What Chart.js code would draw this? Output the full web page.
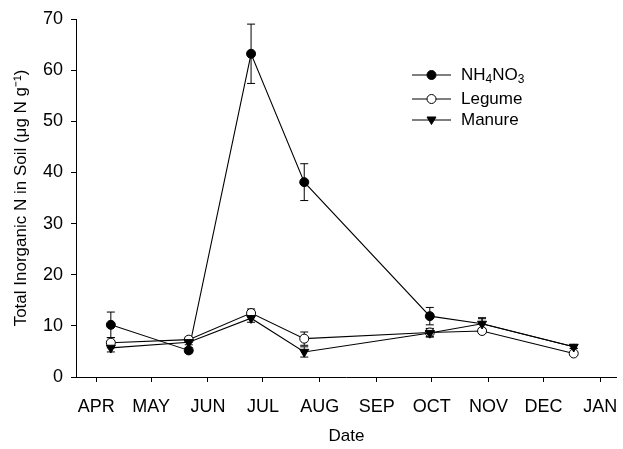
<!DOCTYPE html>
<html>
<head>
<meta charset="utf-8">
<script src="https://cdn.jsdelivr.net/npm/chart.js@4/dist/chart.umd.min.js"></script>
<style>
  html, body { margin: 0; padding: 0; background: #fff; }
  #wrap { width: 623px; height: 449px; }
</style>
</head>
<body>
<div id="wrap"><canvas id="myChart"></canvas></div>
<script>
// days after 1 April
const sampleDays = [8, 50.5, 84.5, 113.5, 182, 210.5, 260.5];

const nh4no3 = [10.2, 5.2, 63.2, 38.1, 11.9, 10.4, 5.9];
const nh4no3Err = [2.5, 0.5, 5.8, 3.6, 1.7, 1.0, 0.3];

const legume = [6.7, 7.3, 12.5, 7.5, 8.7, 9.0, 4.6];
const legumeErr = [1.0, 0.5, 0.8, 1.3, 0.8, 0.5, 0.4];

const manure = [5.7, 6.8, 11.5, 4.9, 8.6, 10.4, 5.9];
const manureErr = [0.8, 0.5, 0.8, 1.0, 0.8, 1.2, 0.3];

const monthLabels = ["APR", "MAY", "JUN", "JUL", "AUG", "SEP", "OCT", "NOV", "DEC", "JAN"];
const monthStarts = [0, 30, 61, 91, 122, 153, 183, 214, 244, 275];
const yTicks = [0, 10, 20, 30, 40, 50, 60, 70];

const FONT = "'Liberation Sans', Arial, sans-serif";

function pts(values) {
  return values.map((v, i) => ({x: sampleDays[i], y: v}));
}

const errorBars = {
  id: 'errorBars',
  beforeDatasetsDraw(chart) {
    const ctx = chart.ctx;
    const xs = chart.scales.x, ys = chart.scales.y;
    ctx.save();
    ctx.strokeStyle = '#000';
    ctx.lineWidth = 1;
    chart.data.datasets.forEach(ds => {
      ds.data.forEach((p, i) => {
        const e = ds.errors[i];
        const x = xs.getPixelForValue(p.x);
        const y1 = ys.getPixelForValue(p.y + e);
        const y2 = ys.getPixelForValue(p.y - e);
        ctx.beginPath();
        ctx.moveTo(x, y1); ctx.lineTo(x, y2);
        ctx.moveTo(x - 4, y1); ctx.lineTo(x + 4, y1);
        ctx.moveTo(x - 4, y2); ctx.lineTo(x + 4, y2);
        ctx.stroke();
      });
    });
    ctx.restore();
  }
};

// legend drawn inside the plot, with subscripts
const insideLegend = {
  id: 'insideLegend',
  afterDraw(chart) {
    const ctx = chart.ctx;
    const rows = [
      {ds: 0, y: 75, parts: [["NH", 0], ["4", 1], ["NO", 0], ["3", 1]]},
      {ds: 1, y: 99, parts: [["Legume", 0]]},
      {ds: 2, y: 120, parts: [["Manure", 0]]}
    ];
    ctx.save();
    rows.forEach(r => {
      const ds = chart.data.datasets[r.ds];
      ctx.strokeStyle = '#000';
      ctx.lineWidth = 1.1;
      ctx.beginPath();
      ctx.moveTo(412, r.y); ctx.lineTo(451, r.y);
      ctx.stroke();
      ctx.fillStyle = ds.pointBackgroundColor;
      ctx.lineWidth = 1;
      ctx.beginPath();
      if (ds.pointStyle === 'circle') {
        ctx.arc(431.5, r.y, 4.5, 0, Math.PI * 2);
      } else {
        ctx.moveTo(431.5 - 4.5, r.y - 3);
        ctx.lineTo(431.5 + 4.5, r.y - 3);
        ctx.lineTo(431.5, r.y + 4.5);
        ctx.closePath();
      }
      ctx.fill(); ctx.stroke();
      let x = 461;
      ctx.fillStyle = '#000';
      ctx.textBaseline = 'middle';
      r.parts.forEach(([t, sub]) => {
        ctx.font = (sub ? '12px ' : '17px ') + FONT;
        ctx.fillText(t, x, r.y + (sub ? 5 : 0));
        x += ctx.measureText(t).width;
      });
    });
    ctx.restore();
  }
};

const ctx = document.getElementById('myChart').getContext('2d');
new Chart(ctx, {
  type: 'line',
  data: {
    datasets: [
      {
        label: 'NH4NO3', data: pts(nh4no3), errors: nh4no3Err, order: 3,
        borderColor: '#000', borderWidth: 1.1,
        pointStyle: 'circle', pointRadius: [4.5, 4.5, 4.5, 4.5, 4.5, 2.5, 2.5],
        pointBackgroundColor: '#000', pointBorderColor: '#000', pointBorderWidth: 1
      },
      {
        label: 'Legume', data: pts(legume), errors: legumeErr, order: 2,
        borderColor: '#000', borderWidth: 1.1,
        pointStyle: 'circle', pointRadius: 4.5, pointBackgroundColor: '#fff',
        pointBorderColor: '#000', pointBorderWidth: 1
      },
      {
        label: 'Manure', data: pts(manure), errors: manureErr, order: 1,
        borderColor: '#000', borderWidth: 1.1,
        pointStyle: 'triangle', pointRotation: 180, pointRadius: 5.2, pointBackgroundColor: '#000',
        pointBorderColor: '#000', pointBorderWidth: 1
      }
    ]
  },
  options: {
    responsive: true,
    maintainAspectRatio: false,
    animation: false,
    events: [],
    layout: { padding: { top: 19, right: 0, left: 0, bottom: 0 } },
    plugins: {
      legend: { display: false },
      tooltip: { enabled: false }
    },
    scales: {
      x: {
        type: 'linear',
        min: -11,
        max: 284,
        afterBuildTicks: axis => { axis.ticks = monthStarts.map(v => ({value: v})); },
        afterFit: axis => { axis.height = 72; axis.paddingRight = 2; },
        ticks: {
          color: '#000',
          font: { family: FONT, size: 18 },
          padding: 14,
          maxRotation: 0,
          autoSkip: false,
          callback: v => monthLabels[monthStarts.indexOf(v)]
        },
        grid: { display: true, drawOnChartArea: false, tickLength: 5, color: '#000' },
        border: { display: true, color: '#000', width: 1 },
        title: {
          display: true, text: 'Date', color: '#000',
          font: { family: FONT, size: 17 },
          padding: { top: 0, bottom: 2 }
        }
      },
      y: {
        min: 0,
        max: 70,
        afterBuildTicks: axis => { axis.ticks = yTicks.map(v => ({value: v})); },
        afterFit: axis => { axis.width = 76; },
        ticks: {
          color: '#000',
          font: { family: FONT, size: 18 },
          padding: 8
        },
        grid: { display: true, drawOnChartArea: false, tickLength: 5, color: '#000' },
        border: { display: true, color: '#000', width: 1 },
        title: {
          display: true, text: 'Total Inorganic N in Soil (\u03bcg N g\u207b\u00b9)', color: '#000',
          font: { family: FONT, size: 17 },
          padding: { top: 11, bottom: 0 }
        }
      }
    }
  },
  plugins: [errorBars, insideLegend]
});
</script>
</body>
</html>
